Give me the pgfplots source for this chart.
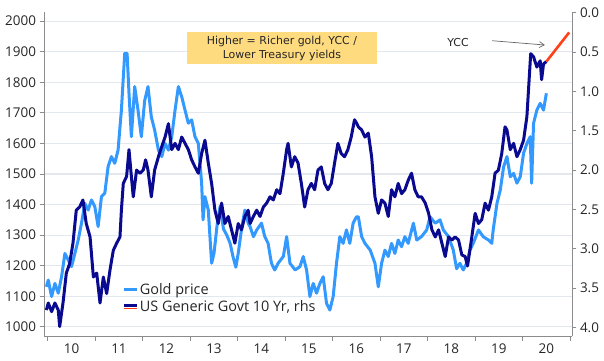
\documentclass[border=0pt]{standalone}
\usepackage{fontspec}
\setmainfont{Open Sans}
\newfontfamily\boxfont{DejaVu Sans}
\usepackage{pgfplots}
\usepackage{pgfplotstable}
\usetikzlibrary{arrows.meta}
\pgfplotsset{compat=1.18}
\definecolor{goldc}{RGB}{51,153,255}
\definecolor{ylds}{RGB}{10,10,145}
\definecolor{yccred}{RGB}{255,64,25}
\definecolor{gridc}{RGB}{227,232,238}
\definecolor{axisc}{RGB}{140,140,140}
\definecolor{txt}{RGB}{38,38,38}
\definecolor{boxc}{RGB}{255,219,127}

\pgfplotstableread{
x y
2009.97 1131
2010.01 1153
2010.08 1099
2010.15 1142
2010.22 1110
2010.29 1164
2010.36 1240
2010.43 1219
2010.50 1197
2010.57 1240
2010.64 1284
2010.71 1339
2010.78 1404
2010.85 1382
2010.92 1415
2010.99 1393
2011.06 1328
2011.13 1426
2011.20 1437
2011.27 1524
2011.34 1557
2011.41 1535
2011.48 1578
2011.55 1709
2011.62 1895
2011.67 1895
2011.71 1764
2011.76 1622
2011.83 1786
2011.90 1709
2011.97 1622
2012.04 1740
2012.11 1786
2012.18 1687
2012.25 1644
2012.33 1578
2012.40 1557
2012.47 1600
2012.54 1578
2012.61 1622
2012.68 1709
2012.75 1786
2012.82 1753
2012.89 1709
2012.96 1666
2013.03 1677
2013.10 1622
2013.17 1600
2013.24 1470
2013.27 1350
2013.31 1426
2013.38 1382
2013.45 1208
2013.50 1240
2013.57 1339
2013.63 1395
2013.70 1320
2013.77 1300
2013.84 1273
2013.90 1230
2013.96 1195
2014.01 1240
2014.08 1320
2014.15 1382
2014.22 1339
2014.26 1328
2014.33 1295
2014.40 1317
2014.50 1339
2014.57 1295
2014.64 1273
2014.71 1208
2014.78 1186
2014.85 1208
2014.96 1230
2015.03 1295
2015.10 1208
2015.21 1186
2015.31 1197
2015.38 1230
2015.45 1186
2015.52 1099
2015.59 1142
2015.66 1110
2015.73 1142
2015.80 1164
2015.87 1077
2015.94 1055
2016.01 1099
2016.08 1208
2016.15 1295
2016.22 1273
2016.29 1317
2016.36 1273
2016.43 1339
2016.50 1360
2016.54 1360
2016.61 1295
2016.68 1273
2016.79 1251
2016.89 1208
2016.96 1131
2017.03 1208
2017.10 1251
2017.17 1230
2017.24 1273
2017.31 1240
2017.38 1284
2017.45 1262
2017.52 1295
2017.59 1273
2017.70 1339
2017.77 1284
2017.87 1295
2017.98 1317
2018.05 1360
2018.16 1339
2018.26 1350
2018.33 1317
2018.44 1295
2018.54 1251
2018.61 1190
2018.68 1208
2018.75 1186
2018.82 1208
2018.89 1251
2018.96 1273
2019.07 1317
2019.17 1295
2019.28 1284
2019.35 1273
2019.38 1317
2019.46 1404
2019.53 1448
2019.60 1524
2019.67 1557
2019.74 1491
2019.81 1502
2019.88 1470
2019.95 1491
2020.02 1568
2020.09 1600
2020.16 1622
2020.19 1470
2020.23 1666
2020.30 1709
2020.37 1731
2020.44 1709
2020.50 1764
}\golddata

\pgfplotstableread{
x y
2009.97 3.78
2010.01 3.69
2010.08 3.80
2010.15 3.69
2010.22 3.78
2010.25 3.99
2010.32 3.69
2010.39 3.31
2010.46 3.19
2010.53 2.93
2010.60 2.51
2010.67 2.47
2010.74 2.38
2010.81 2.68
2010.89 2.85
2010.96 3.36
2011.03 3.31
2011.10 3.69
2011.17 3.36
2011.24 3.57
2011.31 3.27
2011.38 3.02
2011.45 2.93
2011.52 2.85
2011.55 2.51
2011.59 2.17
2011.66 2.08
2011.71 1.74
2011.76 2.08
2011.80 2.34
2011.87 2.00
2011.94 2.04
2012.01 2.00
2012.06 1.87
2012.11 2.00
2012.18 2.34
2012.25 2.00
2012.33 1.83
2012.40 1.70
2012.47 1.58
2012.54 1.41
2012.61 1.74
2012.68 1.66
2012.75 1.74
2012.82 1.58
2012.89 1.66
2012.96 1.74
2013.03 1.87
2013.10 1.96
2013.17 2.04
2013.24 1.79
2013.31 1.62
2013.38 1.91
2013.45 2.17
2013.52 2.51
2013.59 2.68
2013.66 2.42
2013.73 2.68
2013.80 2.59
2013.87 2.76
2013.94 2.93
2014.01 2.68
2014.08 2.76
2014.15 2.59
2014.22 2.51
2014.26 2.68
2014.33 2.59
2014.40 2.51
2014.47 2.59
2014.54 2.47
2014.61 2.42
2014.68 2.34
2014.75 2.38
2014.82 2.25
2014.89 2.30
2014.96 2.04
2015.03 1.74
2015.06 1.66
2015.13 1.96
2015.20 1.83
2015.27 1.91
2015.34 2.17
2015.41 2.47
2015.48 2.25
2015.55 2.17
2015.62 2.25
2015.69 2.00
2015.76 1.96
2015.83 2.17
2015.90 2.25
2015.97 2.17
2016.04 1.91
2016.11 1.66
2016.18 1.79
2016.25 1.83
2016.32 1.74
2016.39 1.58
2016.46 1.36
2016.51 1.41
2016.54 1.45
2016.61 1.49
2016.68 1.58
2016.75 1.53
2016.82 1.83
2016.89 2.34
2016.96 2.55
2017.03 2.38
2017.10 2.42
2017.17 2.59
2017.24 2.25
2017.31 2.34
2017.38 2.17
2017.45 2.30
2017.52 2.25
2017.59 2.13
2017.66 2.04
2017.73 2.25
2017.80 2.34
2017.87 2.34
2017.95 2.42
2018.02 2.55
2018.09 2.76
2018.16 2.85
2018.23 2.76
2018.30 2.93
2018.37 3.10
2018.44 2.85
2018.51 2.89
2018.58 2.85
2018.65 2.89
2018.72 3.08
2018.79 3.10
2018.84 3.22
2018.93 2.85
2019.00 2.55
2019.07 2.68
2019.14 2.63
2019.21 2.42
2019.28 2.51
2019.35 2.34
2019.42 2.04
2019.49 2.00
2019.56 1.79
2019.63 1.45
2019.67 1.49
2019.74 1.74
2019.81 1.66
2019.88 1.83
2019.95 1.74
2020.02 1.62
2020.09 1.32
2020.12 1.02
2020.17 0.52
2020.23 0.56
2020.30 0.69
2020.37 0.61
2020.40 0.85
2020.44 0.65
2020.50 0.62
}\yielddata

\pgfplotstableread{
x y
2020.50 0.62
2020.98 0.25
}\yccdata

\pgfplotsset{
  common/.style={
    width=528bp, height=324bp, scale only axis,
    xmin=2009.92, xmax=2021.04,
    tick align=outside,
    major tick length=4.5bp,
    tick style={axisc, line width=0.8bp},
    axis line style={axisc, line width=0.9bp},
    tick label style={font=\fontsize{13.5}{16}\selectfont, text=txt},
    /pgf/number format/assume math mode=true,
    /pgf/number format/set thousands separator={},
  }
}

\begin{document}
\begin{tikzpicture}
\begin{axis}[common,
  ymin=970, ymax=2030,
  axis x line*=bottom, axis y line*=left,
  ytick={1000,1100,1200,1300,1400,1500,1600,1700,1800,1900,2000},
  xtick={2010,2011,2012,2013,2014,2015,2016,2017,2018,2019,2020,2021},
  xticklabels={10,11,12,13,14,15,16,17,18,19,20,{}},
  x tick label style={xshift=23.7bp},
  ymajorgrids, grid style={gridc, line width=1.2bp},
  legend style={draw=none, fill=none, at={(0.148,0.168)}, anchor=north west,
    font=\fontsize{14.5}{17}\selectfont, text=txt, inner sep=0pt,
    row sep=2bp, nodes={inner sep=1.5bp}},
  legend cell align=left,
]
\addplot[goldc, line width=3bp, line join=round,
  legend image code/.code={\draw[goldc,line width=3bp] (0bp,0bp) -- (13bp,0bp);}]
  table[x=x,y=y] {\golddata};
\addlegendentry{Gold price}
\addlegendimage{legend image code/.code={
  \draw[ylds,line width=2.6bp] (0bp,1.4bp) -- (13bp,1.4bp);
  \draw[yccred,line width=1.9bp] (0bp,-1.5bp) -- (13bp,-1.5bp);}}
\addlegendentry{US Generic Govt 10 Yr, rhs}
\node[fill=boxc, minimum width=190bp, minimum height=32bp, align=center,
  font=\boxfont\fontsize{11}{14}\selectfont, text=txt, inner sep=0pt]
  at (axis cs:2014.93,1912) {Higher = Richer gold, YCC /\\Lower Treasury yields};
\node[font=\boxfont\fontsize{11}{13}\selectfont, text=txt] at (axis cs:2018.64,1929) {YCC};
\draw[-{Straight Barb[length=5bp,width=6bp]}, gray!80!black, line width=0.7bp]
  (axis cs:2019.36,1936) -- (axis cs:2020.47,1922);
\end{axis}
\begin{axis}[common,
  ymin=-0.01, ymax=4.11, y dir=reverse,
  axis x line=none, axis y line*=right,
  ytick={0,0.5,1,1.5,2,2.5,3,3.5,4},
  yticklabel style={/pgf/number format/.cd, fixed, fixed zerofill, precision=1},
]
\addplot[ylds, line width=3bp, line join=round] table[x=x,y=y] {\yielddata};
\addplot[yccred, line width=2.6bp] table[x=x,y=y] {\yccdata};
\end{axis}
\pgfresetboundingbox
\path[use as bounding box] (-44bp,-25bp) rectangle (560bp,336bp);
\end{tikzpicture}
\end{document}
